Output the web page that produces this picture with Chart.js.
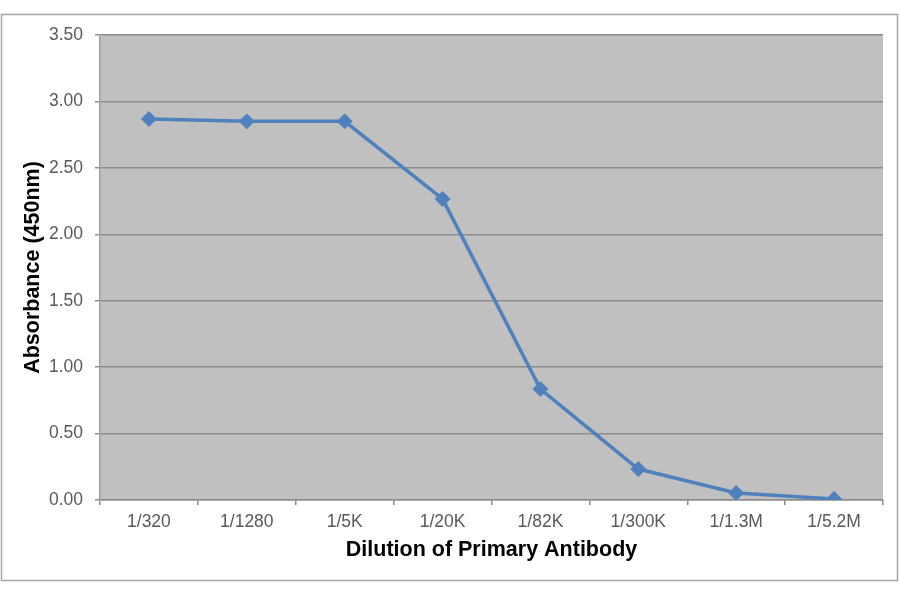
<!DOCTYPE html>
<html>
<head>
<meta charset="utf-8">
<script src="https://cdn.jsdelivr.net/npm/chart.js@4/dist/chart.umd.min.js"></script>
<style>
html,body{margin:0;padding:0;background:#fff;}
#wrap{position:absolute;left:0;top:0;width:900px;height:594px;}
</style>
</head>
<body>
<div id="wrap"><canvas id="c" width="900" height="594"></canvas></div>
<script>
const categories = ["1/320","1/1280","1/5K","1/20K","1/82K","1/300K","1/1.3M","1/5.2M"];
const absorbance = [2.868, 2.85, 2.85, 2.266, 0.835, 0.233, 0.053, 0.008];
const yTitle = "Absorbance (450nm)";
const xTitle = "Dilution of Primary Antibody";

const bgPlugin = {
  id: 'bg',
  beforeDraw(chart) {
    const {ctx, chartArea: a} = chart;
    ctx.save();
    ctx.fillStyle = '#fff';
    ctx.fillRect(0, 0, chart.width, chart.height);
    ctx.strokeStyle = '#a6a6a6';
    ctx.lineWidth = 1.5;
    ctx.strokeRect(1.5, 14.5, 896, 566);
    ctx.fillStyle = '#c0c0c0';
    ctx.fillRect(a.left, a.top, a.right - a.left, a.bottom - a.top);
    ctx.restore();
  }
};

new Chart(document.getElementById('c'), {
  type: 'line',
  data: {
    labels: categories,
    datasets: [{
      data: absorbance,
      borderColor: '#4f81bd',
      backgroundColor: '#4f81bd',
      borderWidth: 3.5,
      pointStyle: 'rectRot',
      pointRadius: 5.5,
      pointHoverRadius: 5.5,
      tension: 0,
      fill: false
    }]
  },
  options: {
    responsive: false,
    animation: false,
    devicePixelRatio: 1,
    layout: { padding: { left: 0, top: 35, right: 17, bottom: 0 } },
    plugins: { legend: { display: false }, tooltip: { enabled: false } },
    scales: {
      x: {
        offset: true,
        grid: { display: true, offset: true, drawOnChartArea: false, drawTicks: true, tickLength: 5, color: '#8c8c8c', lineWidth: 1.5 },
        border: { display: true, color: '#8c8c8c', width: 1.5 },
        ticks: { color: '#595959', font: { family: 'Liberation Sans, Arial, sans-serif', size: 17.5 }, padding: 7, maxRotation: 0 },
        title: { display: true, text: xTitle, color: '#000', font: { family: 'Liberation Sans, Arial, sans-serif', size: 21.5, weight: 'bold' }, padding: { top: 0, bottom: 31 } },
        afterFit(s) { s.height = 94; }
      },
      y: {
        min: 0, max: 3.5,
        grid: { color: '#8c8c8c', lineWidth: 1.5, drawTicks: true, tickLength: 5 },
        border: { display: true, color: '#a0a0a0', width: 1.5 },
        ticks: { stepSize: 0.5, color: '#595959', font: { family: 'Liberation Sans, Arial, sans-serif', size: 17.5 }, padding: 12, callback: v => Number(v).toFixed(2) },
        title: { display: true, text: yTitle, color: '#000', font: { family: 'Liberation Sans, Arial, sans-serif', size: 21.5, weight: 'bold' }, padding: { top: 20, bottom: 0 } },
        afterFit(s) { s.width = 100; }
      }
    }
  },
  plugins: [bgPlugin]
});
</script>
</body>
</html>
